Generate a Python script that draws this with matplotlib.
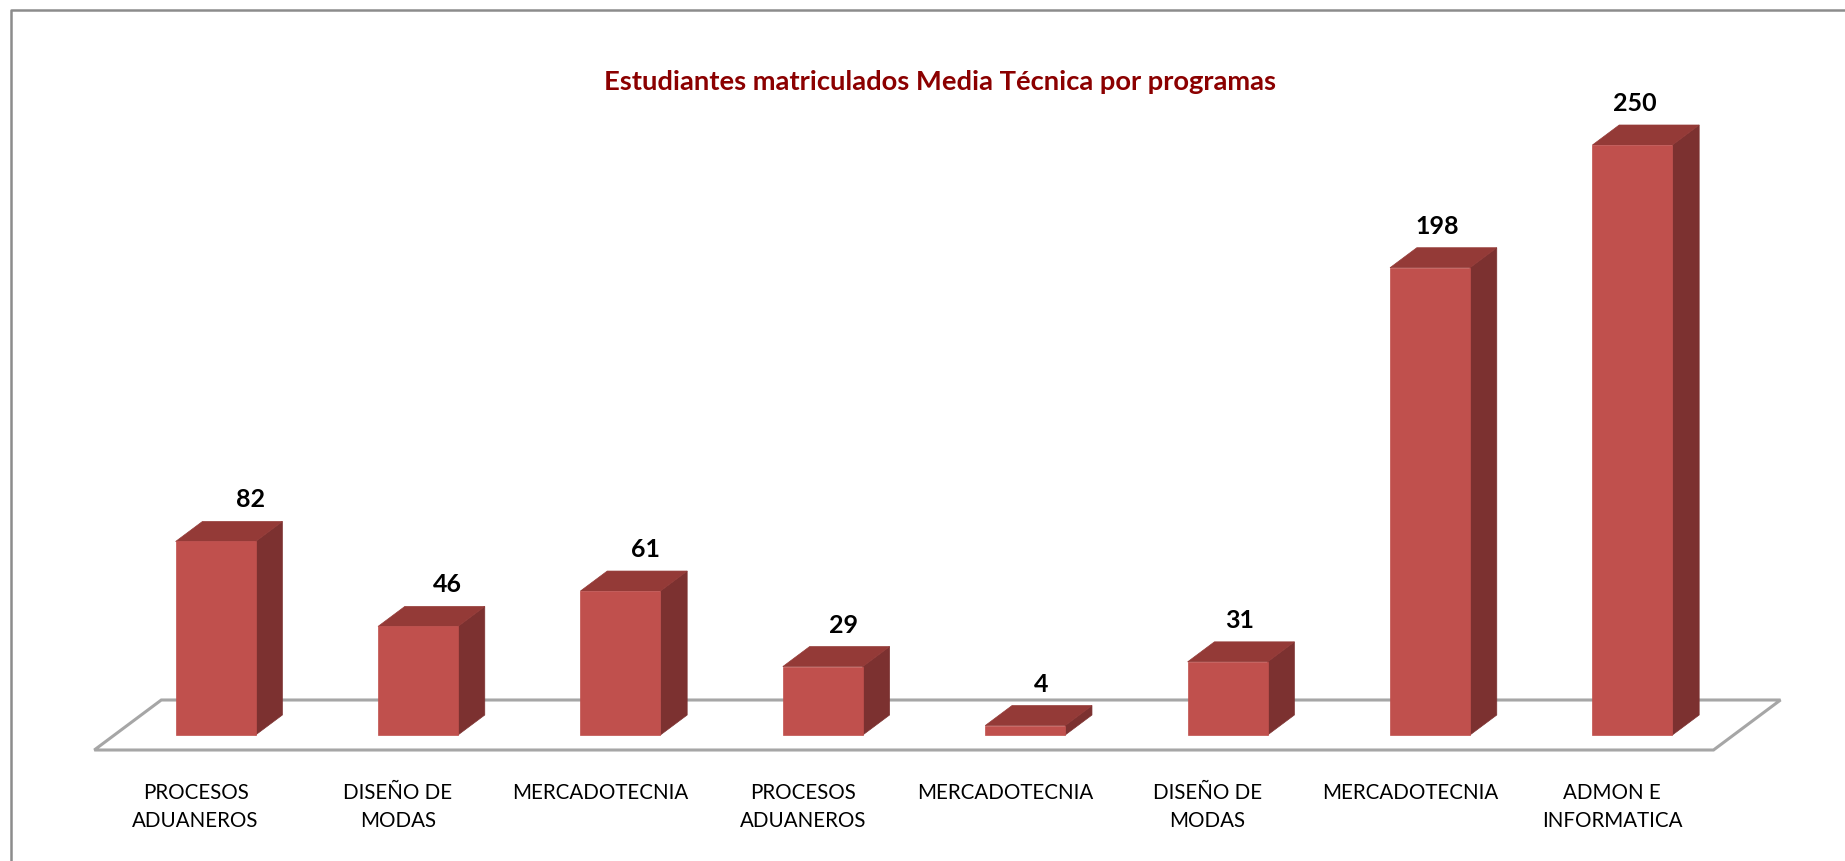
import matplotlib
matplotlib.use("Agg")
import matplotlib.pyplot as plt
from matplotlib.patches import Polygon
from matplotlib.lines import Line2D

# ---- data ----
categories = ["PROCESOS\nADUANEROS", "DISEÑO DE\nMODAS", "MERCADOTECNIA",
              "PROCESOS\nADUANEROS", "MERCADOTECNIA", "DISEÑO DE\nMODAS",
              "MERCADOTECNIA", "ADMON E\nINFORMATICA"]
values = [82, 46, 61, 29, 4, 31, 198, 250]
title = "Estudiantes matriculados Media Técnica por programas"

# ---- style ----
FONT = "Lato"
FRONT = "#C0504D"
TOP = "#943A37"
SIDE = "#7C3130"
FLOOR = "#A6A6A6"

W, H = 1845, 862
fig = plt.figure(figsize=(W / 100, H / 100), dpi=100)
fig.patch.set_facecolor("white")

# pixel geometry of the category/value scale
x0_px, step_px = 195.5, 202.4      # category 0 centre, spacing
y0_px, k_px = 736.0, 2.36          # value 0 baseline (from top), px per unit
xlim = (-0.9, 7.95)
ylim = (-50, 300)
left = (x0_px + step_px * xlim[0]) / W
right = (x0_px + step_px * xlim[1]) / W
bottom = (H - (y0_px - k_px * ylim[0])) / H
top = (H - (y0_px - k_px * ylim[1])) / H
ax = fig.add_axes([left, bottom, right - left, top - bottom])
ax.set_xlim(*xlim)
ax.set_ylim(*ylim)
ax.axis("off")

# oblique depth of the whole floor (x in category units, y in value units)
DX = 67 / step_px
DY = 50 / k_px
d_front, d_back = 0.3, 0.7   # bar depth span within floor
bar_w = 0.395
n = len(values)

# floor
fy0 = -d_front * DY
floor = Polygon([(-0.5, fy0), (n - 0.5, fy0), (n - 0.5 + DX, fy0 + DY), (-0.5 + DX, fy0 + DY)],
                closed=True, facecolor="white", edgecolor=FLOOR, lw=2.2, zorder=1, joinstyle="miter")
ax.add_patch(floor)

# bars
for i, v in enumerate(values):
    xc = i + d_front * DX
    xl, xr = xc - bar_w / 2, xc + bar_w / 2
    ddx = (d_back - d_front) * DX
    ddy = (d_back - d_front) * DY
    side = Polygon([(xr, 0), (xr + ddx, ddy), (xr + ddx, v + ddy), (xr, v)],
                   closed=True, facecolor=SIDE, edgecolor=SIDE, lw=0.5, zorder=3)
    topf = Polygon([(xl, v), (xr, v), (xr + ddx, v + ddy), (xl + ddx, v + ddy)],
                   closed=True, facecolor=TOP, edgecolor=TOP, lw=0.5, zorder=3)
    ax.add_patch(side)
    ax.add_patch(topf)
    ax.bar(xc, v, width=bar_w, bottom=0, color=FRONT, edgecolor=FRONT, lw=0.5, zorder=4)
    ax.annotate(str(v), xy=(xc + ddx / 2, v + ddy), xytext=(21 - 4.5 * i, 15),
                textcoords="offset pixels", ha="center", va="baseline",
                fontsize=18, fontweight="bold", family=FONT, color="black", zorder=5)

# category labels
for i, c in enumerate(categories):
    ax.text(i, -20, c, ha="center", va="top", fontsize=14.8, family=FONT,
            color="black", linespacing=1.5, multialignment="center")

# title
fig.text(940 / W, 1 - 82 / H, title, ha="center", va="center", fontsize=19.7,
         fontweight="bold", family=FONT, color="#8B0000")

# chart frame (top & left edges visible)
fig.add_artist(Line2D([10.5 / W, 10.5 / W, 1.0], [0.0, 1 - 10.5 / H, 1 - 10.5 / H],
                      transform=fig.transFigure, color="#8C8C8C", lw=1.8))

fig.savefig("out.png", dpi=100, facecolor="white")
